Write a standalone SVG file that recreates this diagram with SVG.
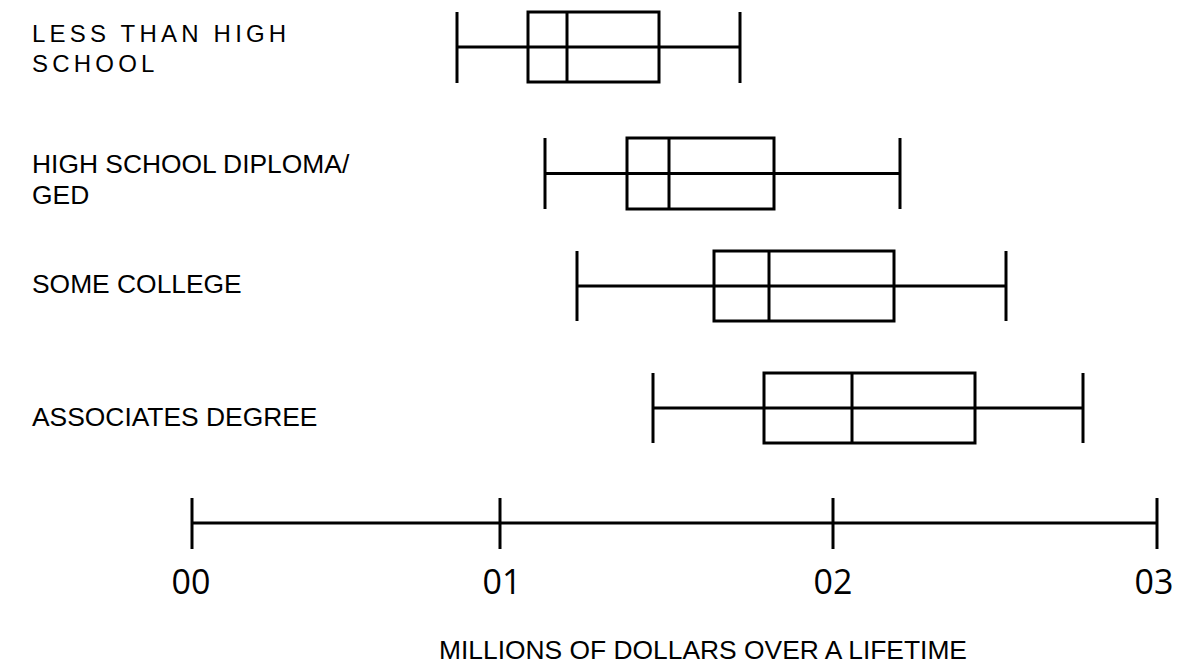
<svg xmlns="http://www.w3.org/2000/svg" width="1184" height="663" viewBox="0 0 1184 663">
<style>
.ln{stroke:#000;stroke-width:3;fill:none}
.lbl{font-family:"Liberation Sans",Arial,sans-serif;font-size:26.4px;fill:#000}
.tk{font-family:"Open Sans","Noto Sans",sans-serif;font-size:34px;fill:#000;text-anchor:middle}
</style>
<rect width="1184" height="663" fill="#fff"/>
<g id="row-less-than-high-school">
<text class="lbl" x="32" y="42" style="font-size:24px;letter-spacing:4.2px">LESS THAN HIGH</text>
<text class="lbl" x="32" y="72" style="font-size:24px;letter-spacing:4.2px">SCHOOL</text>
<line class="ln" x1="457" y1="47" x2="740" y2="47"/>
<line class="ln" x1="457" y1="12" x2="457" y2="83"/>
<line class="ln" x1="740" y1="12" x2="740" y2="83"/>
<rect class="ln" x="528" y="12" width="131" height="70"/>
<line class="ln" x1="567" y1="12" x2="567" y2="82"/>
</g>
<g id="row-high-school-diploma">
<text class="lbl" x="32" y="173">HIGH SCHOOL DIPLOMA/</text>
<text class="lbl" x="32" y="204">GED</text>
<line class="ln" x1="545" y1="173.5" x2="900" y2="173.5"/>
<line class="ln" x1="545" y1="138" x2="545" y2="209"/>
<line class="ln" x1="900" y1="138" x2="900" y2="209"/>
<rect class="ln" x="627" y="138" width="147" height="71"/>
<line class="ln" x1="669" y1="138" x2="669" y2="209"/>
</g>
<g id="row-some-college">
<text class="lbl" x="32" y="293">SOME COLLEGE</text>
<line class="ln" x1="577" y1="286" x2="1006" y2="286"/>
<line class="ln" x1="577" y1="251" x2="577" y2="321"/>
<line class="ln" x1="1006" y1="251" x2="1006" y2="321"/>
<rect class="ln" x="714" y="251" width="180" height="70"/>
<line class="ln" x1="769" y1="251" x2="769" y2="321"/>
</g>
<g id="row-associates-degree">
<text class="lbl" x="32" y="426">ASSOCIATES DEGREE</text>
<line class="ln" x1="653" y1="408" x2="1083" y2="408"/>
<line class="ln" x1="653" y1="373" x2="653" y2="443"/>
<line class="ln" x1="1083" y1="373" x2="1083" y2="443"/>
<rect class="ln" x="764" y="373" width="211" height="70"/>
<line class="ln" x1="852" y1="373" x2="852" y2="443"/>
</g>
<g id="axis">
<line class="ln" x1="192" y1="523" x2="1157" y2="523"/>
<line class="ln" x1="192" y1="498" x2="192" y2="549"/>
<line class="ln" x1="500" y1="498" x2="500" y2="549"/>
<line class="ln" x1="833" y1="498" x2="833" y2="549"/>
<line class="ln" x1="1157" y1="498" x2="1157" y2="549"/>
<text class="tk" x="191" y="594">00</text>
<text class="tk" x="502" y="594">01</text>
<text class="tk" x="833" y="594">02</text>
<text class="tk" x="1154" y="594">03</text>
<text class="lbl" x="703" y="659" text-anchor="middle">MILLIONS OF DOLLARS OVER A LIFETIME</text>
</g>
</svg>
